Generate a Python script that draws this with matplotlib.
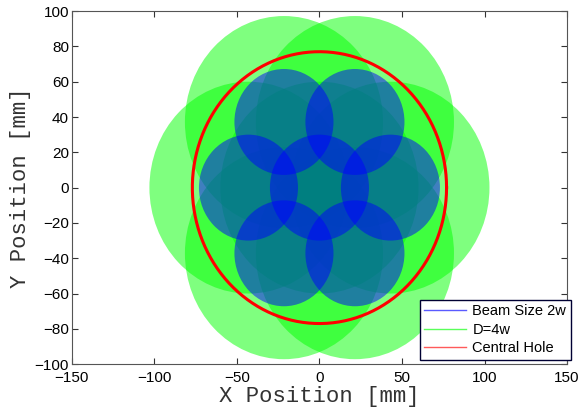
import matplotlib.pyplot as plt
import numpy as np
from matplotlib.patches import Circle
from matplotlib.lines import Line2D

# beam centres on a hexagonal grid (mm)
beam_x = [0, 43, 21.5, -21.5, -43, -21.5, 21.5]
beam_y = [0, 0, 37.2, 37.2, 0, -37.2, -37.2]
beam_r = 30      # 2w
clear_r = 60     # D = 4w
hole_r = 77      # central hole radius

legend_labels = ['Beam Size 2w', 'D=4w', 'Central Hole']

plt.rcParams['font.family'] = ['Liberation Sans', 'DejaVu Sans']
fig = plt.figure(figsize=(5.84, 4.11), dpi=100)
ax = fig.add_axes([0.123, 0.114, 0.848, 0.859])

for x, y in zip(beam_x, beam_y):
    ax.add_patch(Circle((x, y), clear_r, facecolor=(0, 1, 0), alpha=0.5,
                        edgecolor='none'))
for x, y in zip(beam_x, beam_y):
    ax.add_patch(Circle((x, y), beam_r, facecolor=(0, 0, 1), alpha=0.5,
                        edgecolor='none'))

t = np.linspace(0, 2 * np.pi, 400)
ax.plot(hole_r * np.cos(t), hole_r * np.sin(t), color='red', lw=2.2)

ax.set_xlim(-150, 150)
ax.set_ylim(-100, 100)
ax.set_xticks(np.arange(-150, 151, 50))
ax.set_yticks(np.arange(-100, 101, 20))
ax.tick_params(direction='in', top=True, right=True, labelsize=11,
               length=4, color='#333333')
ax.tick_params(axis='x', pad=5)
ax.tick_params(axis='y', pad=2)
ax.set_yticklabels([str(v).replace('-', '\u2212') for v in range(-100, 101, 20)])
ax.set_xticklabels([str(v).replace('-', '\u2212') for v in range(-150, 151, 50)])
for s in ax.spines.values():
    s.set_color('#555555')
    s.set_linewidth(0.8)

ax.set_xlabel('X Position [mm]', family='Liberation Mono', fontsize=16,
              color='#333333', labelpad=1)
ax.set_ylabel('Y Position [mm]', family='Liberation Mono', fontsize=16,
              color='#333333', labelpad=3)

handles = [Line2D([], [], color='#5a5aff', lw=1),
           Line2D([], [], color='#5aff5a', lw=1),
           Line2D([], [], color='#ff5a5a', lw=1)]
leg = ax.legend(handles, legend_labels, loc='lower right',
                bbox_to_anchor=(1.007, 0.013), fontsize=10.5, fancybox=False,
                framealpha=1, edgecolor='#000033', handlelength=2.9,
                borderpad=0.3, labelspacing=0.3, handletextpad=0.4,
                borderaxespad=0)
leg.get_frame().set_linewidth(1.0)

fig.savefig('out.png', dpi=100)
